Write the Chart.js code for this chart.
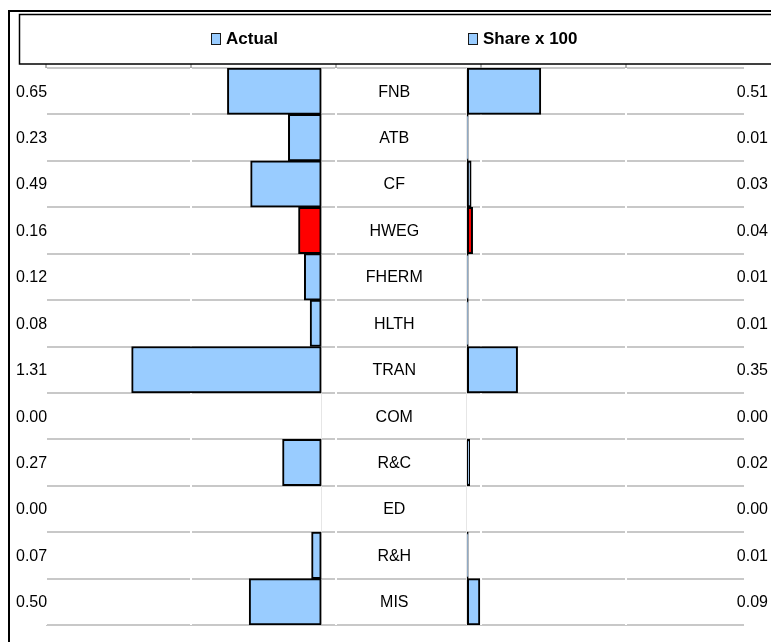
<!DOCTYPE html>
<html>
<head>
<meta charset="utf-8">
<title>Actual vs Share x 100</title>
<script src="https://cdn.jsdelivr.net/npm/chart.js@4.4.1/dist/chart.umd.min.js"></script>
<style>
  html, body { margin: 0; padding: 0; background: #ffffff; overflow: hidden; }
  #wrap { width: 771px; height: 642px; position: relative; }
</style>
</head>
<body>
<div id="wrap"><canvas id="chart" width="771" height="642"></canvas></div>
<script>
// Spending categories, top to bottom
const categories = ['FNB', 'ATB', 'CF', 'HWEG', 'FHERM', 'HLTH', 'TRAN', 'COM', 'R&C', 'ED', 'R&H', 'MIS'];
// Left panel: actual values
const actualValues = [0.65, 0.23, 0.49, 0.16, 0.12, 0.08, 1.31, 0.00, 0.27, 0.00, 0.07, 0.50];
// Right panel: share x 100
const shareValues = [0.51, 0.01, 0.03, 0.04, 0.01, 0.01, 0.35, 0.00, 0.02, 0.00, 0.01, 0.09];
const seriesNames = ['Actual', 'Share x 100'];
const highlighted = 'HWEG';

const FILL = '#99ccff';
const HILITE = '#ff0000';
const FONT = '"Liberation Sans", Arial, sans-serif';

// Horizontal extent in value units: left panel, centre label column, right panel
const LEFT_SPAN = 1.9;
const GAP = 1;
const RIGHT_SPAN = 1.91;
const TOTAL_SPAN = LEFT_SPAN + GAP + RIGHT_SPAN;

const barColors = categories.map(c => c === highlighted ? HILITE : FILL);

const zeroLineOnly = scale => { scale.ticks = [{ value: 0 }]; };

// Frame, legend box and legend entries
const framePlugin = {
  id: 'frame',
  afterDraw(chart) {
    const ctx = chart.ctx;
    ctx.save();
    ctx.strokeStyle = '#000000';
    ctx.lineWidth = 2;
    ctx.beginPath();
    ctx.moveTo(9, chart.height);
    ctx.lineTo(9, 11);
    ctx.lineTo(chart.width, 11);
    ctx.stroke();

    ctx.lineWidth = 1.5;
    ctx.strokeRect(19.5, 14.5, 790, 49.5);

    const itemX = [211, 468];
    chart.data.datasets.forEach((ds, i) => {
      const x = itemX[i];
      ctx.fillStyle = FILL;
      ctx.fillRect(x, 33, 9, 11);
      ctx.strokeStyle = '#1a1a1a';
      ctx.lineWidth = 1;
      ctx.strokeRect(x + 0.5, 33.5, 9, 11);
      ctx.fillStyle = '#000000';
      ctx.font = 'bold 17px ' + FONT;
      ctx.textAlign = 'left';
      ctx.textBaseline = 'middle';
      ctx.fillText(ds.label, x + 15, 39);
    });
    ctx.restore();
  }
};

// Category names in the centre column, values at both edges
const labelPlugin = {
  id: 'rowLabels',
  afterDatasetsDraw(chart) {
    const ctx = chart.ctx;
    const y = chart.scales.y;
    const mid = (chart.scales.xL.getPixelForValue(0) + chart.scales.xR.getPixelForValue(0)) / 2;
    ctx.save();
    ctx.fillStyle = '#000000';
    ctx.font = '16px ' + FONT;
    ctx.textBaseline = 'middle';
    categories.forEach((c, i) => {
      const py = y.getPixelForValue(i) + 1;
      ctx.textAlign = 'center';
      ctx.fillText(c, mid, py);
      ctx.textAlign = 'left';
      ctx.fillText(actualValues[i].toFixed(2), 16, py);
      ctx.textAlign = 'right';
      ctx.fillText(shareValues[i].toFixed(2), 768, py);
    });
    ctx.restore();
  }
};

const barStyle = {
  borderColor: '#000000',
  borderWidth: 2,
  borderSkipped: false,
  grouped: false,
  barPercentage: 1,
  categoryPercentage: 1
};

new Chart(document.getElementById('chart'), {
  type: 'bar',
  data: {
    labels: categories,
    datasets: [
      Object.assign({ label: seriesNames[0], data: actualValues, xAxisID: 'xL', yAxisID: 'y', backgroundColor: barColors }, barStyle),
      Object.assign({ label: seriesNames[1], data: shareValues, xAxisID: 'xR', yAxisID: 'y', backgroundColor: barColors }, barStyle)
    ]
  },
  options: {
    indexAxis: 'y',
    responsive: false,
    animation: false,
    devicePixelRatio: 1,
    layout: { padding: { top: 64, left: 46, right: 27, bottom: 17 } },
    plugins: { legend: { display: false }, tooltip: { enabled: false } },
    scales: {
      y: {
        type: 'category',
        offset: true,
        grid: { offset: true, color: '#c8c8c8', lineWidth: 2, drawTicks: false, z: -2 },
        ticks: { display: false },
        border: { display: false }
      },
      xL: {
        type: 'linear',
        position: 'bottom',
        reverse: true,
        min: -(GAP + RIGHT_SPAN),
        max: LEFT_SPAN,
        afterBuildTicks: zeroLineOnly,
        ticks: { display: false },
        grid: { drawTicks: false, color: '#e6e6e6', lineWidth: 1, z: -1 },
        border: { display: false }
      },
      xR: {
        type: 'linear',
        position: 'bottom',
        min: -(LEFT_SPAN + GAP),
        max: RIGHT_SPAN,
        afterBuildTicks: zeroLineOnly,
        ticks: { display: false },
        grid: { drawTicks: false, color: '#e6e6e6', lineWidth: 1, z: -1 },
        border: { display: false }
      },
      xTop: {
        type: 'linear',
        position: 'top',
        min: 0,
        max: TOTAL_SPAN,
        afterBuildTicks: scale => {
          scale.ticks = Array.from({ length: Math.floor(TOTAL_SPAN) + 1 }, (_, i) => ({ value: i }));
        },
        ticks: { display: false },
        grid: { color: '#ffffff', lineWidth: 2, tickColor: '#9a9a9a', tickLength: 4, tickWidth: 1.5, z: -1 },
        border: { display: false }
      }
    }
  },
  plugins: [framePlugin, labelPlugin]
});
</script>
</body>
</html>
